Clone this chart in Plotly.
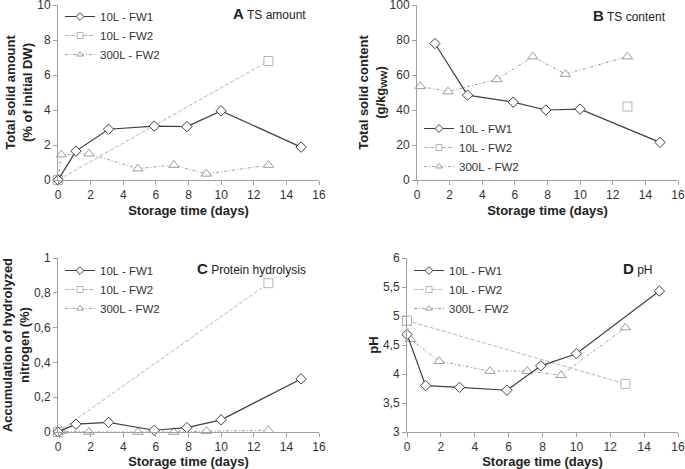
import plotly.graph_objects as go

W, H = 685, 469

# ---- data ----
days_fw1 = [0, 1.1, 3.1, 5.9, 7.9, 10.0, 14.9]
days_fw2 = [0, 12.9]
days_300 = [0, 0.2, 1.9, 4.9, 7.1, 9.1, 12.9]

ts_amount_fw1 = [0, 1.65, 2.9, 3.08, 3.05, 3.95, 1.88]
ts_amount_fw2 = [0, 6.8]
ts_amount_300 = [0, 1.45, 1.5, 0.65, 0.85, 0.35, 0.85]

days_fw1_b = [1.1, 3.1, 5.9, 7.9, 10.0, 14.9]
days_fw2_b = [12.9]
days_300_b = [0.2, 1.9, 4.9, 7.1, 9.1, 12.9]
ts_content_fw1 = [78, 48.5, 44.5, 40, 40.5, 21.5]
ts_content_fw2 = [42]
ts_content_300 = [53.5, 50.5, 57.5, 70.5, 60.5, 70.5]

prot_fw1 = [0, 0.045, 0.055, 0.01, 0.025, 0.07, 0.305]
prot_fw2 = [0, 0.855]
prot_300 = [0, 0.005, 0.0, 0.0, 0.0, 0.005, 0.01]

ph_fw1 = [4.68, 3.8, 3.77, 3.72, 4.14, 4.35, 5.43]
ph_fw2 = [4.92, 3.83]
ph_300 = [4.88, 4.6, 4.22, 4.05, 4.05, 3.98, 4.8]

names = ["10L - FW1", "10L - FW2", "300L - FW2"]
x_ticks = [0, 2, 4, 6, 8, 10, 12, 14, 16]
y_ticks_a = [0, 2, 4, 6, 8, 10]
y_ticks_b = [0, 20, 40, 60, 80, 100]
y_ticks_c = [0, 0.2, 0.4, 0.6, 0.8, 1]
y_ticks_c_lab = ["0", "0,2", "0,4", "0,6", "0,8", "1"]
y_ticks_d = [3, 3.5, 4, 4.5, 5, 5.5, 6]
y_ticks_d_lab = ["3", "3,5", "4", "4,5", "5", "5,5", "6"]

# ---- styles ----
C1, C2, C3 = "#3f3f3f", "#b4b4b4", "#9c9c9c"
line_styles = [dict(color=C1, width=1.2), dict(color=C2, width=1, dash="4px,2px"),
               dict(color=C3, width=1, dash="3px,2px,1px,2px")]
symbols = ["diamond", "square", "triangle-up"]
msizes = [8, 9, 9]
mcolors = [C1, C2, C3]

fig = go.Figure()

panels = [
    ("x", "y", "legend", [(days_fw1, ts_amount_fw1), (days_fw2, ts_amount_fw2), (days_300, ts_amount_300)]),
    ("x2", "y2", "legend2", [(days_fw1_b, ts_content_fw1), (days_fw2_b, ts_content_fw2), (days_300_b, ts_content_300)]),
    ("x3", "y3", "legend3", [(days_fw1, prot_fw1), (days_fw2, prot_fw2), (days_300, prot_300)]),
    ("x4", "y4", "legend4", [(days_fw1, ph_fw1), (days_fw2, ph_fw2), (days_300, ph_300)]),
]
order = [2, 1, 0]  # draw FW1 on top
for xa, ya, lg, series in panels:
    for i in order:
        xs, ys = series[i]
        fig.add_trace(go.Scatter(x=xs, y=ys, mode="lines+markers", name=names[i],
                                 xaxis=xa, yaxis=ya, showlegend=False, cliponaxis=False,
                                 line=line_styles[i],
                                 marker=dict(symbol=symbols[i], size=msizes[i], color="white",
                                             line=dict(color=mcolors[i], width=1))))
    # legend-only entries with smaller symbols
    for i in range(3):
        fig.add_trace(go.Scatter(x=[None], y=[None], mode="lines+markers", name=names[i],
                                 xaxis=xa, yaxis=ya, legend=lg, legendrank=i + 1,
                                 line=dict(color=mcolors[i], width=1,
                                           dash=line_styles[i].get("dash", "solid")),
                                 marker=dict(symbol=symbols[i], size=6, color="white",
                                             line=dict(color=mcolors[i], width=1))))

def px_x(p):
    return p / W

def px_y(p):
    return 1 - p / H

tickfont = dict(family="Liberation Sans, Arial", size=12, color="#333333")
titlefont = dict(family="Liberation Sans, Arial", size=13, color="#222222")

def xax(x0, x1, anchor):
    return dict(domain=[px_x(x0), px_x(x1)], range=[0, 16], tickvals=x_ticks,
                showgrid=False, zeroline=False, showline=True, linecolor="#a0a0a0", linewidth=1,
                ticks="outside", ticklen=4, tickcolor="#a0a0a0", tickfont=tickfont,
                ticklabeloverflow="allow",
                title=dict(text="<b>Storage time (days)</b>", font=titlefont, standoff=4),
                anchor=anchor, automargin=False)

def yax(y0, y1, rng, tv, tt, title, anchor):
    return dict(domain=[px_y(y1), px_y(y0)], range=rng, tickvals=tv, ticktext=tt,
                showgrid=False, zeroline=False, showline=True, linecolor="#a0a0a0", linewidth=1,
                ticks="outside", ticklen=4, tickcolor="#a0a0a0", tickfont=tickfont,
                ticklabeloverflow="allow",
                title=dict(text=title, font=titlefont, standoff=1), anchor=anchor,
                automargin=False)

# pixel boxes in the picture (left, right, top, bottom)
A = (58, 319, 5, 180)
B = (417, 678, 5, 180)
Cc = (58, 319, 258, 432)
D = (407, 678, 258, 432)

fig.update_layout(
    width=W, height=H, margin=dict(l=0, r=0, t=0, b=0, autoexpand=False),
    paper_bgcolor="white", plot_bgcolor="white",
    font=dict(family="Liberation Sans, Arial", color="#333333"),
    xaxis=xax(A[0], A[1], "y"),
    yaxis=yax(A[2], A[3], [0, 10], y_ticks_a, [str(v) for v in y_ticks_a],
              "<b>Total solid amount<br>(% of initial DW)</b>", "x"),
    xaxis2=xax(B[0], B[1], "y2"),
    yaxis2=yax(B[2], B[3], [0, 100], y_ticks_b, [str(v) for v in y_ticks_b],
               "<b>Total solid content<br>(g/kg<sub>WW</sub>)</b>", "x2"),
    xaxis3=xax(Cc[0], Cc[1], "y3"),
    yaxis3=yax(Cc[2], Cc[3], [0, 1], y_ticks_c, y_ticks_c_lab,
               "<b>Accumulation of hydrolyzed<br>nitrogen (%)</b>", "x3"),
    xaxis4=xax(D[0], D[1], "y4"),
    yaxis4=yax(D[2], D[3], [3, 6], y_ticks_d, y_ticks_d_lab, "<b>pH</b>", "x4"),
)

legfont = dict(family="Liberation Sans, Arial", size=11.5, color="#333333")
def leg(xp, yp):
    return dict(x=px_x(xp), y=px_y(yp), xanchor="left", yanchor="top", font=legfont,
                bgcolor="rgba(0,0,0,0)", itemwidth=30, tracegroupgap=0,
                traceorder="normal", borderwidth=0)

fig.update_layout(legend=leg(60, 2), legend2=leg(419, 114),
                  legend3=leg(60, 256), legend4=leg(409, 256))

labels = [
    (308, 13, "<b><span style='font-size:15px'>A</span></b> TS amount"),
    (668, 16, "<b><span style='font-size:15px'>B</span></b> TS content"),
    (308, 268, "<b><span style='font-size:15px'>C</span></b> Protein hydrolysis"),
    (655, 268, "<b><span style='font-size:15px'>D</span></b> pH"),
]
for xp, yp, t in labels:
    fig.add_annotation(x=px_x(xp), y=px_y(yp), xref="paper", yref="paper", text=t,
                       showarrow=False, xanchor="right", yanchor="middle",
                       font=dict(family="Liberation Sans, Arial", size=12, color="#222222"))

fig.write_html("out.html", config={"displayModeBar": False},
               post_script="document.body.style.margin='0';document.body.style.overflow='hidden';")
